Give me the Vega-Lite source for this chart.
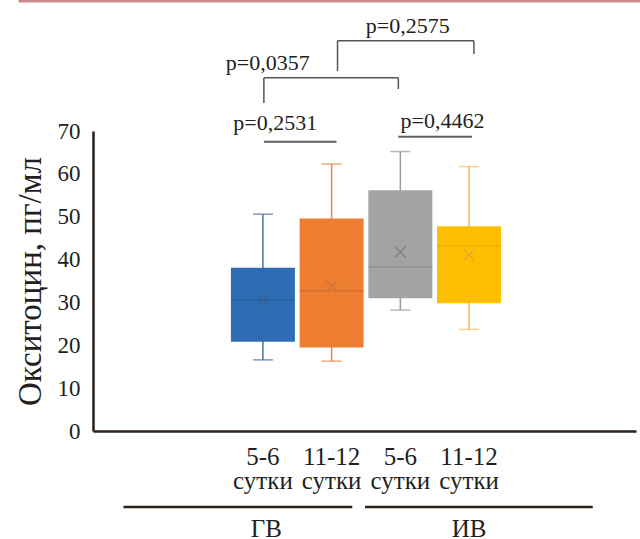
{
  "$schema": "https://vega.github.io/schema/vega-lite/v6.json",
  "width": 543,
  "height": 300,
  "autosize": {"type": "none"},
  "padding": {"left": 93, "top": 131, "right": 4, "bottom": 108},
  "background": "white",
  "config": {
    "view": {"stroke": null},
    "font": "Liberation Serif",
    "text": {"font": "Liberation Serif"},
    "axisX": {"labels": false, "ticks": false, "grid": false, "domainColor": "#2b2118", "domainWidth": 2.5},
    "axisY": {"grid": false, "ticks": false, "domainColor": "#2b2118", "domainWidth": 2.5,
              "labelFont": "Liberation Serif", "labelFontSize": 23, "labelColor": "#231f20", "labelPadding": 13,
              "titleFont": "Liberation Serif", "titleFontSize": 33, "titleFontWeight": "normal", "titleColor": "#231f20", "titlePadding": 10}
  },
  "datasets": {
    "boxes": [
      {"pos": 1, "grp": "ГВ 5-6", "lower": 16.6, "q1": 20.8, "median": 30.6, "q3": 38.1, "upper": 50.6, "mean": 30.6},
      {"pos": 2, "grp": "ГВ 11-12", "lower": 16.3, "q1": 19.5, "median": 32.7, "q3": 49.6, "upper": 62.3, "mean": 33.8},
      {"pos": 3, "grp": "ИВ 5-6", "lower": 28.2, "q1": 31.0, "median": 38.3, "q3": 56.2, "upper": 65.2, "mean": 41.8},
      {"pos": 4, "grp": "ИВ 11-12", "lower": 23.7, "q1": 29.8, "median": 43.2, "q3": 47.8, "upper": 61.7, "mean": 41.1}
    ],
    "brackets": [
      {"x": 2.086, "x2": 4.071, "y": 91.07, "y2": 91.07},
      {"x": 2.086, "x2": 2.086, "y": 91.07, "y2": 84.0},
      {"x": 4.071, "x2": 4.071, "y": 91.07, "y2": 87.97},
      {"x": 1.014, "x2": 2.971, "y": 82.44, "y2": 82.44},
      {"x": 1.014, "x2": 1.014, "y": 82.44, "y2": 76.53},
      {"x": 2.971, "x2": 2.971, "y": 82.44, "y2": 79.8}
    ],
    "underlines": [
      {"x": 1.014, "x2": 2.071, "y": 67.5, "y2": 67.5},
      {"x": 2.971, "x2": 4.043, "y": 68.67, "y2": 68.67}
    ],
    "grouplines": [
      {"x": -1.029, "x2": 2.3, "y": -17.73, "y2": -17.73},
      {"x": 2.486, "x2": 5.8, "y": -17.73, "y2": -17.73}
    ],
    "topline": [
      {"x": -2.557, "x2": 6.5, "y": 100.3, "y2": 100.3}
    ],
    "pvalues": [
      {"x": 3.107, "y": 92.87, "t": "p=0,2575"},
      {"x": 1.071, "y": 84.23, "t": "p=0,0357"},
      {"x": 1.179, "y": 70.23, "t": "p=0,2531"},
      {"x": 3.614, "y": 70.7, "t": "p=0,4462"}
    ],
    "xlabels": [
      {"x": 1, "y": -7.93, "t": "5-6\nсутки"},
      {"x": 2, "y": -7.93, "t": "11-12\nсутки"},
      {"x": 3, "y": -7.93, "t": "5-6\nсутки"},
      {"x": 4, "y": -7.93, "t": "11-12\nсутки"}
    ],
    "glabels": [
      {"x": 1.05, "y": -24.73, "t": "ГВ"},
      {"x": 4.0, "y": -24.73, "t": "ИВ"}
    ]
  },
  "resolve": {"scale": {"color": "independent"}},
  "layer": [
    {
      "data": {"name": "boxes"},
      "mark": {"type": "rule", "strokeWidth": 1.5},
      "encoding": {
        "x": {"field": "pos", "type": "quantitative", "title": null,
              "scale": {"domain": [-1.4, 6.357], "nice": false, "zero": false}},
        "y": {"field": "lower", "type": "quantitative", "title": "Окситоцин, пг/мл",
              "scale": {"domain": [0, 70], "nice": false, "zero": false}},
        "y2": {"field": "upper"},
        "color": {"field": "grp", "type": "nominal",
                  "scale": {"domain": ["ГВ 5-6", "ГВ 11-12", "ИВ 5-6", "ИВ 11-12"], "range": ["#4b6fa6", "#ec8443", "#9a9a9a", "#eebb55"]},
                  "legend": null}
      }
    },
    {
      "data": {"name": "boxes"},
      "mark": {"type": "tick", "orient": "horizontal", "size": 20, "thickness": 1.5},
      "encoding": {
        "x": {"field": "pos", "type": "quantitative", "title": null},
        "y": {"field": "lower", "type": "quantitative", "title": "Окситоцин, пг/мл"},
        "color": {"field": "grp", "type": "nominal",
                  "scale": {"domain": ["ГВ 5-6", "ГВ 11-12", "ИВ 5-6", "ИВ 11-12"], "range": ["#4b6fa6", "#ec8443", "#9a9a9a", "#eebb55"]},
                  "legend": null}
      }
    },
    {
      "data": {"name": "boxes"},
      "mark": {"type": "tick", "orient": "horizontal", "size": 20, "thickness": 1.5},
      "encoding": {
        "x": {"field": "pos", "type": "quantitative", "title": null},
        "y": {"field": "upper", "type": "quantitative", "title": "Окситоцин, пг/мл"},
        "color": {"field": "grp", "type": "nominal",
                  "scale": {"domain": ["ГВ 5-6", "ГВ 11-12", "ИВ 5-6", "ИВ 11-12"], "range": ["#4b6fa6", "#ec8443", "#9a9a9a", "#eebb55"]},
                  "legend": null}
      }
    },
    {
      "data": {"name": "boxes"},
      "mark": {"type": "bar", "size": 64},
      "encoding": {
        "x": {"field": "pos", "type": "quantitative", "title": null},
        "y": {"field": "q1", "type": "quantitative", "title": "Окситоцин, пг/мл"},
        "y2": {"field": "q3"},
        "color": {"field": "grp", "type": "nominal",
                  "scale": {"domain": ["ГВ 5-6", "ГВ 11-12", "ИВ 5-6", "ИВ 11-12"], "range": ["#2e6db4", "#ed7d31", "#a3a3a3", "#ffbf00"]},
                  "legend": null}
      }
    },
    {
      "data": {"name": "boxes"},
      "mark": {"type": "tick", "orient": "horizontal", "size": 64, "thickness": 1.5},
      "encoding": {
        "x": {"field": "pos", "type": "quantitative", "title": null},
        "y": {"field": "median", "type": "quantitative", "title": "Окситоцин, пг/мл"},
        "color": {"field": "grp", "type": "nominal",
                  "scale": {"domain": ["ГВ 5-6", "ГВ 11-12", "ИВ 5-6", "ИВ 11-12"], "range": ["#25599a", "#cf6a28", "#888888", "#e3a800"]},
                  "legend": null}
      }
    },
    {
      "data": {"name": "boxes"},
      "mark": {"type": "point", "shape": "M-1,-1L1,1M-1,1L1,-1", "size": 120, "filled": false, "strokeWidth": 1.3, "opacity": 1},
      "encoding": {
        "x": {"field": "pos", "type": "quantitative", "title": null},
        "y": {"field": "mean", "type": "quantitative", "title": "Окситоцин, пг/мл"},
        "color": {"field": "grp", "type": "nominal",
                  "scale": {"domain": ["ГВ 5-6", "ГВ 11-12", "ИВ 5-6", "ИВ 11-12"], "range": ["#3a5f94", "#c9763c", "#7d7d7d", "#dca830"]},
                  "legend": null}
      }
    },
    {
      "data": {"name": "brackets"},
      "mark": {"type": "rule", "color": "#555555", "strokeWidth": 1.5},
      "encoding": {
        "x": {"field": "x", "type": "quantitative", "title": null},
        "x2": {"field": "x2"},
        "y": {"field": "y", "type": "quantitative", "title": "Окситоцин, пг/мл"},
        "y2": {"field": "y2"}
      }
    },
    {
      "data": {"name": "underlines"},
      "mark": {"type": "rule", "color": "#5e5e5e", "strokeWidth": 2},
      "encoding": {
        "x": {"field": "x", "type": "quantitative", "title": null},
        "x2": {"field": "x2"},
        "y": {"field": "y", "type": "quantitative", "title": "Окситоцин, пг/мл"},
        "y2": {"field": "y2"}
      }
    },
    {
      "data": {"name": "grouplines"},
      "mark": {"type": "rule", "color": "#2b2118", "strokeWidth": 2.5},
      "encoding": {
        "x": {"field": "x", "type": "quantitative", "title": null},
        "x2": {"field": "x2"},
        "y": {"field": "y", "type": "quantitative", "title": "Окситоцин, пг/мл"},
        "y2": {"field": "y2"}
      }
    },
    {
      "data": {"name": "topline"},
      "mark": {"type": "rule", "color": "#c98b8b", "strokeWidth": 2.5},
      "encoding": {
        "x": {"field": "x", "type": "quantitative", "title": null},
        "x2": {"field": "x2"},
        "y": {"field": "y", "type": "quantitative", "title": "Окситоцин, пг/мл"},
        "y2": {"field": "y2"}
      }
    },
    {
      "data": {"name": "pvalues"},
      "mark": {"type": "text", "font": "Liberation Serif", "fontSize": 22, "color": "#231f20", "align": "center", "baseline": "alphabetic"},
      "encoding": {
        "x": {"field": "x", "type": "quantitative", "title": null},
        "y": {"field": "y", "type": "quantitative", "title": "Окситоцин, пг/мл"},
        "text": {"field": "t", "type": "nominal"}
      }
    },
    {
      "data": {"name": "xlabels"},
      "mark": {"type": "text", "font": "Liberation Serif", "fontSize": 25, "lineHeight": 24, "lineBreak": "\n", "color": "#231f20", "align": "center", "baseline": "alphabetic"},
      "encoding": {
        "x": {"field": "x", "type": "quantitative", "title": null},
        "y": {"field": "y", "type": "quantitative", "title": "Окситоцин, пг/мл"},
        "text": {"field": "t", "type": "nominal"}
      }
    },
    {
      "data": {"name": "glabels"},
      "mark": {"type": "text", "font": "Liberation Serif", "fontSize": 25, "color": "#231f20", "align": "center", "baseline": "alphabetic"},
      "encoding": {
        "x": {"field": "x", "type": "quantitative", "title": null},
        "y": {"field": "y", "type": "quantitative", "title": "Окситоцин, пг/мл"},
        "text": {"field": "t", "type": "nominal"}
      }
    }
  ]
}
